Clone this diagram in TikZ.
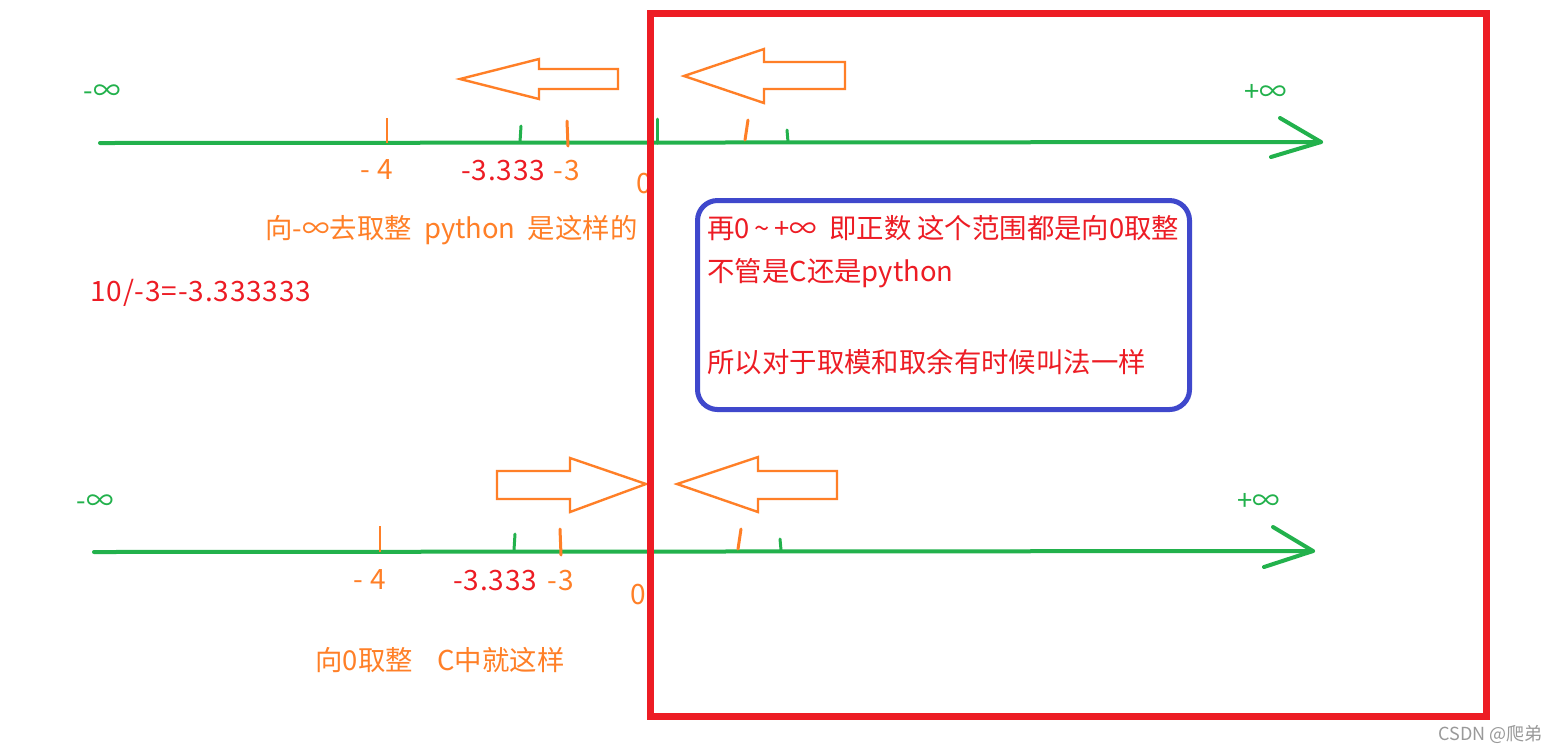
\documentclass[tikz,border=0pt]{standalone}
\usepackage{fontspec}
\setmainfont{Noto Sans CJK SC}
\definecolor{pgreen}{HTML}{22B14C}
\definecolor{porange}{HTML}{FF7F27}
\definecolor{pred}{HTML}{ED1C24}
\definecolor{pblue}{HTML}{3F48CC}
\tikzset{
  axisline/.style={pgreen, line width=2pt, line cap=round, line join=round},
  gtick/.style={pgreen, line width=1.5pt, line cap=round},
  otick/.style={porange, line width=1.5pt, line cap=round},
  othin/.style={porange, line width=1pt},
  blockarrow/.style={porange, line width=1.2pt, line join=miter},
  lbl/.style={inner sep=0pt, font=\fontsize{13.7}{16}\selectfont},
  numlbl/.style={inner sep=0pt, font=\fontsize{14}{16}\selectfont\addfontfeature{LetterSpace=3}},
  glbl/.style={lbl, text=pgreen},
  olbl/.style={numlbl, text=porange},
  rlbl/.style={numlbl, text=pred},
  boxtxt/.style={lbl, text=pred, anchor=west},
}
\begin{document}
\begin{tikzpicture}[x=0.5pt,y=-0.5pt]
\useasboundingbox (0,0) rectangle (1557,752);
\fill[white] (0,0) rectangle (1557,752);

% ---------- top axis ----------
\coordinate (ta0) at (100,143);
\coordinate (ta1) at (1321,142);
\draw[axisline] (ta0) -- (ta1);
\draw[axisline] (1280,118) -- (ta1) -- (1271,157);
\draw[othin] (387,118) -- (387,143);
\draw[gtick] (521,126) -- (520,142);
\draw[otick] (567,121) -- (568,146);
\draw[gtick] (657,119) -- (657,143);
\draw[otick] (748,120) -- (745,140);
\draw[gtick] (787,130) -- (788,142);

\node[glbl] (tninf) at (102,93) {-∞};
\node[glbl] (tpinf) at (1266,93) {+∞};
\node[olbl] (tm4) at (377,170) {- 4};
\node[rlbl] (tm3333) at (503,171) {-3.333};
\node[olbl] (tm3) at (567,171) {-3};
\node[olbl] (t0) at (644,184) {0};

\draw[blockarrow] (460,79) -- (539,59) -- (539,69) -- (618,69) -- (618,89) -- (539,89) -- (539,99) -- cycle;
\draw[blockarrow] (684,76) -- (764,49) -- (764,62) -- (845,62) -- (845,89) -- (764,89) -- (764,103) -- cycle;

\node[lbl, text=porange, anchor=west] (pyrule) at (265,230) {向-∞去取整\ \ python\ \ 是这样的};
\node[rlbl, anchor=west] (calc) at (90,293) {10/-3=-3.333333};

% ---------- bottom axis ----------
\coordinate (ba0) at (94,552);
\coordinate (ba1) at (1313,551);
\draw[axisline] (ba0) -- (ba1);
\draw[axisline] (1273,527) -- (ba1) -- (1264,567);
\draw[othin] (380,526) -- (380,552);
\draw[gtick] (515,534) -- (514,550);
\draw[otick] (560,529) -- (561,555);
\draw[otick] (741,529) -- (738,549);
\draw[gtick] (780,539) -- (781,550);

\node[glbl] (bninf) at (95,503) {-∞};
\node[glbl] (bpinf) at (1259,502) {+∞};
\node[olbl] (bm4) at (370,579) {- 4};
\node[rlbl] (bm3333) at (495,580) {-3.333};
\node[olbl] (bm3) at (561,580) {-3};
\node[olbl] (b0) at (638,594) {0};

\draw[blockarrow] (646,484) -- (570,458) -- (570,471) -- (497,471) -- (497,499) -- (570,499) -- (570,512) -- cycle;
\draw[blockarrow] (677,484) -- (758,457) -- (758,471) -- (837,471) -- (837,499) -- (758,499) -- (758,512) -- cycle;

\node[lbl, text=porange, anchor=west] (crule) at (315,660) {向0取整\ \ \ \ C中就这样};

% ---------- blue box ----------
\node[draw=pblue, line width=2.5pt, rounded corners=10pt, minimum width=246pt, minimum height=104.5pt, anchor=north west, inner sep=0pt] (box) at (695,198) {};
\node[boxtxt] (bl1) at (707,228) {再0\,\textasciitilde\,+∞\ \ 即正数 这个范围都是向0取整};
\node[boxtxt] (bl2) at (707,273) {不管是C还是python};
\node[boxtxt] (bl3) at (707,362) {所以对于取模和取余有时候叫法一样};

% ---------- red frame ----------
\draw[pred, line width=3.5pt] (650,13) rectangle (1486,716);

\node[inner sep=0pt, text=black!40, font=\fontsize{9}{11}\selectfont, anchor=east] (wm) at (1543,734) {CSDN @爬弟};
\end{tikzpicture}
\end{document}
